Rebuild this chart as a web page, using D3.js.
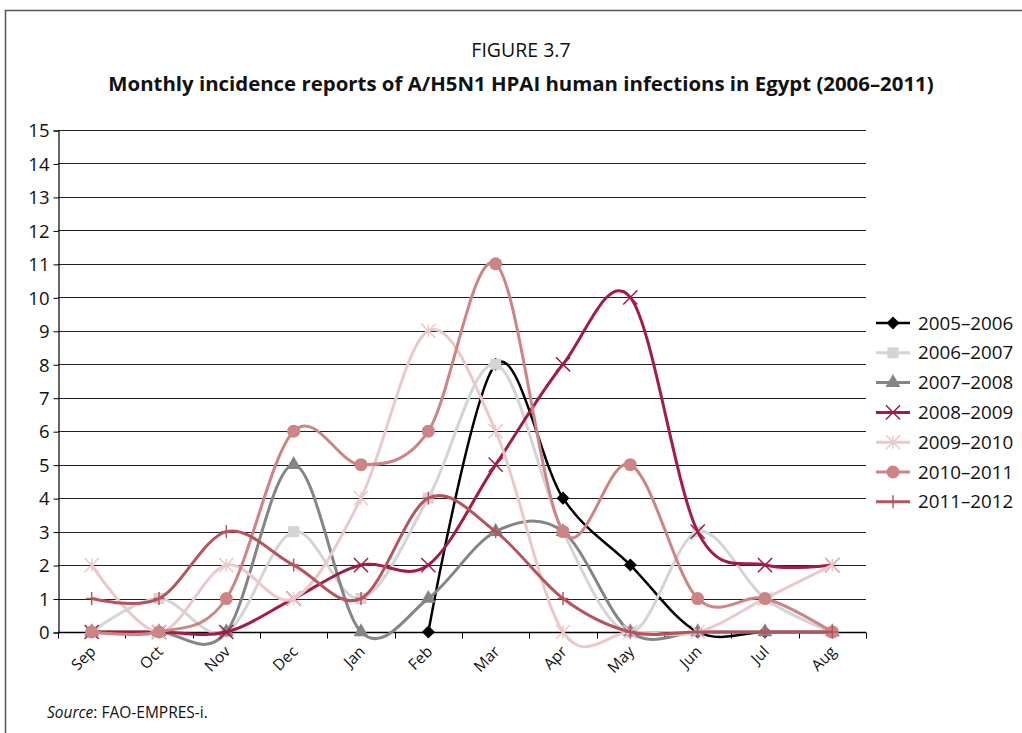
<!DOCTYPE html>
<html>
<head>
<meta charset="utf-8">
<script src="https://cdn.jsdelivr.net/npm/d3@7"></script>
<style>
  body { margin: 0; background: #fff; }
  svg { display: block; font-family: "Open Sans", sans-serif; }
</style>
</head>
<body>
<svg id="chart"></svg>
<script>
const MONTHS = ["Sep", "Oct", "Nov", "Dec", "Jan", "Feb", "Mar", "Apr", "May", "Jun", "Jul", "Aug"];
const SERIES_NAMES = ["2005–2006", "2006–2007", "2007–2008", "2008–2009", "2009–2010", "2010–2011", "2011–2012"];
const S2005 = [null, null, null, null, null, 0, 8, 4, 2, 0, 0, 0];
const S2006 = [0, 1, 0, 3, 1, 4, 8, 3, 0, 3, 1, 0];
const S2007 = [0, 0, 0, 5, 0, 1, 3, 3, 0, 0, 0, 0];
const S2008 = [0, 0, 0, 1, 2, 2, 5, 8, 10, 3, 2, 2];
const S2009 = [2, 0, 2, 1, 4, 9, 6, 0, 0, 0, 1, 2];
const S2010 = [0, 0, 1, 6, 5, 6, 11, 3, 5, 1, 1, 0];
const S2011 = [1, 1, 3, 2, 1, 4, 3, 1, 0, 0, 0, 0];
const Y_TICKS = d3.range(0, 16);

const width = 1022, height = 733;
const margin = { left: 58, right: 156, top: 130, bottom: 101 };

const styles = [
  { color: "#000000", marker: "diamond", lw: 2.5 },
  { color: "#d4d4d4", marker: "square", lw: 3 },
  { color: "#858585", marker: "triangle", lw: 3 },
  { color: "#a11d44", marker: "x", lw: 3 },
  { color: "#e9c9c9", marker: "asterisk", lw: 3 },
  { color: "#cc8584", marker: "circle", lw: 3 },
  { color: "#b6545e", marker: "plus", lw: 3 },
];
const allSeries = [S2005, S2006, S2007, S2008, S2009, S2010, S2011];

const svg = d3.select("#chart").attr("width", width).attr("height", height);

// frame
svg.append("path")
  .attr("d", `M5.5,${height} V10.5 H${width}`)
  .attr("fill", "none").attr("stroke", "#555").attr("stroke-width", 1.5);

// titles
svg.append("text").attr("x", 521).attr("y", 57).attr("text-anchor", "middle")
  .attr("font-size", 19.5).attr("fill", "#111").text("FIGURE 3.7");
svg.append("text").attr("x", 521).attr("y", 91).attr("text-anchor", "middle")
  .attr("font-size", 20.4).attr("font-weight", 700).attr("fill", "#111")
  .text("Monthly incidence reports of A/H5N1 HPAI human infections in Egypt (2006–2011)");

const x = d3.scaleBand().domain(MONTHS).range([margin.left, width - margin.right]);
const y = d3.scaleLinear().domain([0, 15]).range([height - margin.bottom, margin.top]);
const cx = (m) => x(m) + x.bandwidth() / 2;

// gridlines
svg.append("g")
  .selectAll("line")
  .data(Y_TICKS.filter((d) => d > 0))
  .join("line")
  .attr("x1", margin.left).attr("x2", width - margin.right)
  .attr("y1", (d) => Math.round(y(d)) + 0.5).attr("y2", (d) => Math.round(y(d)) + 0.5)
  .attr("stroke", "#222").attr("stroke-width", 1.1);

// y axis
const yAxis = svg.append("g")
  .attr("transform", `translate(${margin.left + 0.5},0.5)`)
  .call(d3.axisLeft(y).tickValues(Y_TICKS).tickSize(5).tickFormat(d3.format("d")));
yAxis.select(".domain").attr("stroke", "#000").attr("stroke-width", 1.2);
yAxis.selectAll(".tick line").attr("stroke", "#000");
yAxis.selectAll(".tick text").attr("font-size", 18.5).attr("font-family", "Open Sans, sans-serif")
  .attr("fill", "#111").attr("x", -9).attr("dy", "0.34em");

// x axis: ticks at band edges, labels at band centres
const edges = MONTHS.map((m) => x(m)).concat([width - margin.right]);
const xAxisG = svg.append("g").attr("transform", `translate(0,${Math.round(y(0)) + 0.5})`);
xAxisG.append("line").attr("x1", margin.left).attr("x2", width - margin.right)
  .attr("stroke", "#000").attr("stroke-width", 1.3);
xAxisG.selectAll("line.edge").data(edges).join("line").attr("class", "edge")
  .attr("x1", (d) => Math.round(d) + 0.5).attr("x2", (d) => Math.round(d) + 0.5)
  .attr("y1", 0).attr("y2", 6).attr("stroke", "#000");
xAxisG.selectAll("text").data(MONTHS).join("text")
  .attr("transform", (d) => `translate(${cx(d) + 5},${20}) rotate(-45)`)
  .attr("text-anchor", "end").attr("font-size", 15.5).attr("fill", "#111")
  .text((d) => d);

// markers
function drawMarker(g, type, color, size) {
  const s = size;
  switch (type) {
    case "diamond":
      g.append("path").attr("d", d3.symbol(d3.symbolDiamond2, s * s * 0.9)()).attr("fill", color);
      break;
    case "square":
      g.append("rect").attr("x", -s / 2).attr("y", -s / 2).attr("width", s).attr("height", s).attr("fill", color);
      break;
    case "triangle":
      g.append("path").attr("d", d3.symbol(d3.symbolTriangle, s * s * 0.8)()).attr("fill", color);
      break;
    case "x":
      g.append("path").attr("d", d3.symbol(d3.symbolX, s * s * 1.1)())
        .attr("fill", "none").attr("stroke", color).attr("stroke-width", 1.5);
      break;
    case "asterisk":
      g.append("path").attr("d", d3.symbol(d3.symbolX, s * s * 1.1)())
        .attr("fill", "none").attr("stroke", color).attr("stroke-width", 1.5);
      g.append("line").attr("y1", -s / 2 - 1).attr("y2", s / 2 + 1).attr("stroke", color).attr("stroke-width", 1.5);
      break;
    case "circle":
      g.append("circle").attr("r", s / 2 + 1).attr("fill", color);
      break;
    case "plus":
      g.append("line").attr("y1", -s / 2 - 1).attr("y2", s / 2 + 1).attr("stroke", color).attr("stroke-width", 1.5);
      g.append("line").attr("x1", -s / 2).attr("x2", s / 2).attr("stroke", color).attr("stroke-width", 1.5);
      break;
  }
}

const line = d3.line()
  .defined((d) => d.v !== null)
  .x((d) => cx(d.m))
  .y((d) => y(d.v))
  .curve(d3.curveCardinal.tension(0));

const plot = svg.append("g");
allSeries.forEach((vals, i) => {
  const st = styles[i];
  const pts = MONTHS.map((m, j) => ({ m, v: vals[j] }));
  const g = plot.append("g");
  g.append("path").datum(pts.filter((d) => d.v !== null))
    .attr("d", line).attr("fill", "none")
    .attr("stroke", st.color).attr("stroke-width", st.lw)
    .attr("stroke-linejoin", "round");
  pts.filter((d) => d.v !== null).forEach((d) => {
    const mg = g.append("g").attr("transform", `translate(${cx(d.m)},${y(d.v)})`);
    drawMarker(mg, st.marker, st.color, 11);
  });
});

// legend
const legend = svg.append("g").attr("transform", "translate(876,323)");
SERIES_NAMES.forEach((name, i) => {
  const st = styles[i];
  const row = legend.append("g").attr("transform", `translate(0,${i * 29.8})`);
  row.append("line").attr("x1", 0).attr("x2", 34).attr("stroke", st.color).attr("stroke-width", st.lw);
  drawMarker(row.append("g").attr("transform", "translate(17,0)"), st.marker, st.color, 11);
  row.append("text").attr("x", 42).attr("dy", "0.35em").attr("font-size", 18.8)
    .attr("fill", "#111").text(name);
});

// source
const src = svg.append("text").attr("x", 47).attr("y", 718).attr("font-size", 15.5).attr("fill", "#111");
src.append("tspan").attr("font-style", "italic").text("Source");
src.append("tspan").text(": FAO-EMPRES-i.");
</script>
</body>
</html>
